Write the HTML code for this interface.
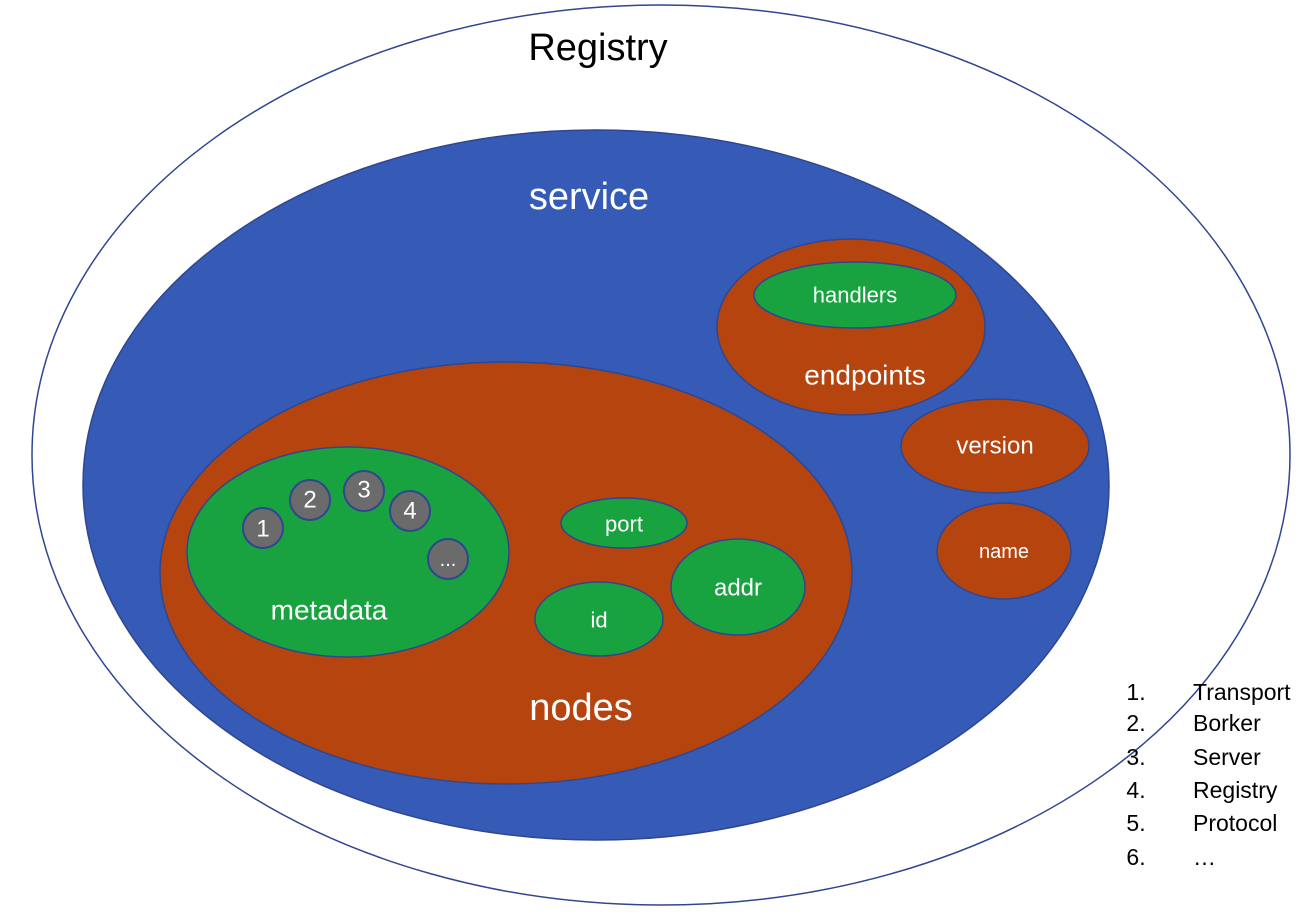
<!DOCTYPE html>
<html><head><meta charset="utf-8"><style>html,body{margin:0;padding:0;background:#fff}svg{display:block}text{font-family:"Liberation Sans",sans-serif;fill:#fff;text-anchor:middle;dominant-baseline:central}</style></head>
<body>
<svg width="1310" height="914" viewBox="0 0 1310 914" xmlns="http://www.w3.org/2000/svg">
<g stroke="#2F4690" stroke-width="1.5">
<ellipse cx="661" cy="455" rx="629" ry="450" fill="#fff"/>
<ellipse cx="596" cy="485" rx="513" ry="355" fill="#355BB7"/>
<ellipse cx="506" cy="573" rx="346" ry="211" fill="#B5440F"/>
<ellipse cx="348" cy="552" rx="161" ry="105" fill="#19A340"/>
<ellipse cx="851" cy="327" rx="134" ry="88" fill="#B5440F"/>
<ellipse cx="855" cy="295" rx="101" ry="33" fill="#19A340"/>
<ellipse cx="995" cy="446" rx="94" ry="47" fill="#B5440F"/>
<ellipse cx="1004" cy="551" rx="67" ry="48" fill="#B5440F"/>
<ellipse cx="624" cy="523" rx="63" ry="25" fill="#19A340"/>
<ellipse cx="738" cy="587" rx="67" ry="48" fill="#19A340"/>
<ellipse cx="599" cy="619" rx="64" ry="37" fill="#19A340"/>
<g fill="#6B6B6B" stroke-width="2">
<circle cx="263" cy="528" r="20"/><circle cx="310" cy="500" r="20"/><circle cx="364" cy="491" r="20"/><circle cx="410" cy="511" r="20"/><circle cx="448" cy="559" r="20"/>
</g>
</g>
<text x="598" y="48" font-size="38" style="fill:#000">Registry</text>
<text x="589" y="197" font-size="38">service</text>
<text x="581" y="708" font-size="38">nodes</text>
<text x="329" y="610" font-size="28">metadata</text>
<text x="865" y="375" font-size="28">endpoints</text>
<text x="855" y="295" font-size="22">handlers</text>
<text x="995" y="446" font-size="24">version</text>
<text x="1004" y="552" font-size="20">name</text>
<text x="624" y="524" font-size="22">port</text>
<text x="738" y="588" font-size="24">addr</text>
<text x="599" y="620" font-size="22">id</text>
<g font-size="24"><text x="263" y="529">1</text><text x="310" y="500">2</text><text x="364" y="490">3</text><text x="410" y="511">4</text><text x="448" y="560" font-size="20">...</text></g>
<g font-size="23" style="fill:#000">
<text x="1136" y="692" style="fill:#000">1.</text><text x="1193" y="692" style="fill:#000;text-anchor:start">Transport</text>
<text x="1136" y="723" style="fill:#000">2.</text><text x="1193" y="723" style="fill:#000;text-anchor:start">Borker</text>
<text x="1136" y="757" style="fill:#000">3.</text><text x="1193" y="757" style="fill:#000;text-anchor:start">Server</text>
<text x="1136" y="790" style="fill:#000">4.</text><text x="1193" y="790" style="fill:#000;text-anchor:start">Registry</text>
<text x="1136" y="823" style="fill:#000">5.</text><text x="1193" y="823" style="fill:#000;text-anchor:start">Protocol</text>
<text x="1136" y="857" style="fill:#000">6.</text><text x="1193" y="857" style="fill:#000;text-anchor:start">…</text>
</g>
</svg>
</body></html>
